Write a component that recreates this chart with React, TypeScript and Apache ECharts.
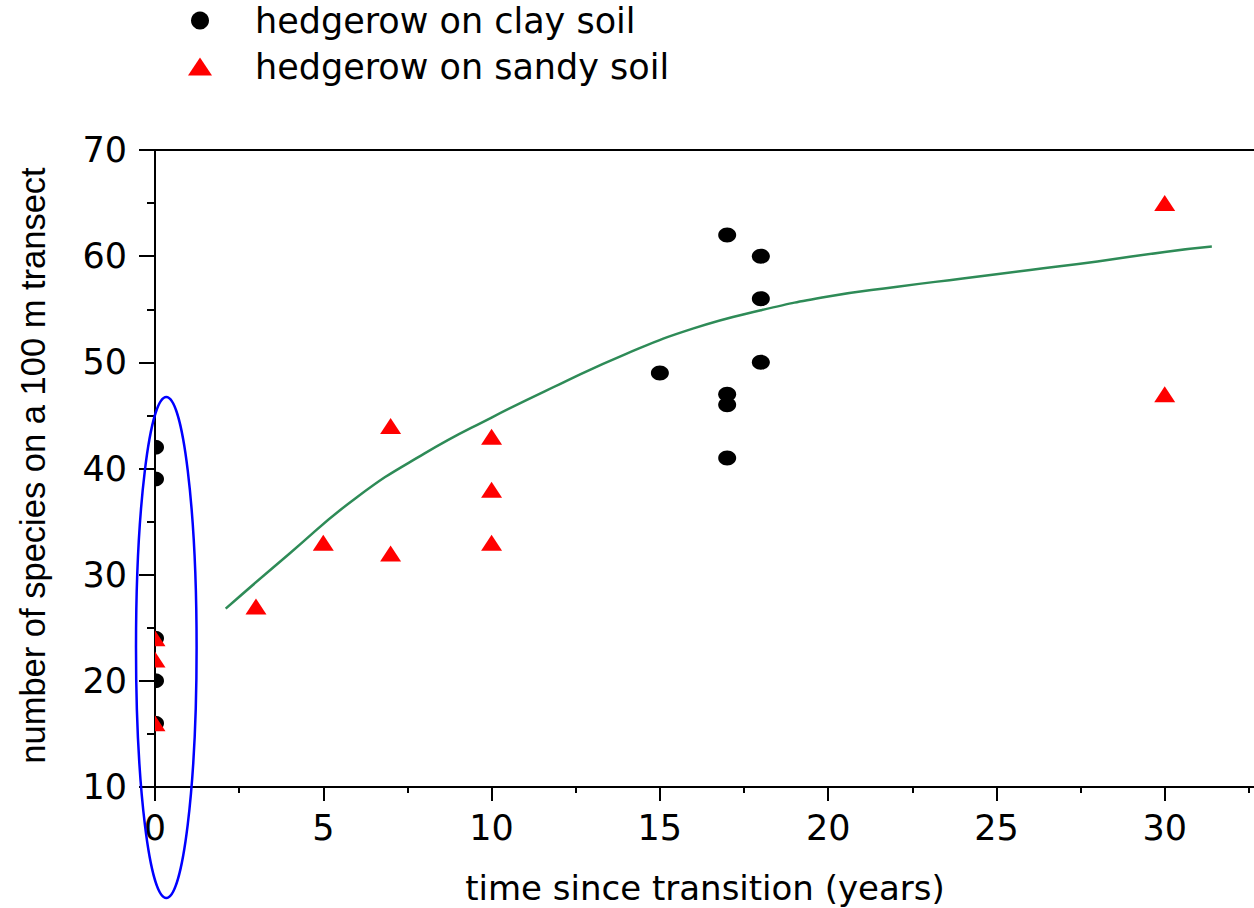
import React, { useEffect, useRef } from "react";
import * as echarts from "echarts";

// Data
const clayX = [0, 0, 0, 0, 0, 15, 17, 17, 17, 17, 18, 18, 18];
const clayY = [42, 39, 24, 20, 16, 49, 62, 47, 46, 41, 60, 56, 50];
const sandyX = [0, 0, 0, 3, 5, 7, 7, 10, 10, 10, 30, 30];
const sandyY = [24, 22, 16, 27, 33, 44, 32, 43, 38, 33, 65, 47];
const fitX = [2.1, 4, 6, 8, 10, 12, 14, 16, 18, 20, 22, 24, 26, 28, 30, 31.4];
const fitY = [26.8, 32.0, 37.3, 41.4, 44.8, 47.9, 50.8, 53.2, 54.9, 56.2, 57.1, 57.9, 58.7, 59.5, 60.4, 60.9];
const seriesNames = ["hedgerow on clay soil", "hedgerow on sandy soil"];
const xTitle = "time since transition (years)";
const yTitle = "number of species on a 100 m transect";

const zip = (xs: number[], ys: number[]) => xs.map((x, i) => [x, ys[i]]);

export default function App() {
  const ref = useRef<HTMLDivElement>(null);
  useEffect(() => {
    if (!ref.current) return;
    const chart = echarts.init(ref.current, undefined, { renderer: "svg" });
    const labelFont = "DejaVu Sans";
    chart.setOption({
      animation: false,
      backgroundColor: "#ffffff",
      grid: {
        left: 155,
        top: 150,
        width: 1178,
        bottom: 121,
        outerBoundsMode: "none",
        containLabel: false,
        show: true,
        borderColor: "#000",
        borderWidth: 2,
        backgroundColor: "transparent",
      },
      legend: {
        orient: "vertical",
        left: 188,
        top: 3,
        padding: 0,
        itemWidth: 24,
        itemHeight: 18,
        itemGap: 11,
        data: [
          { name: seriesNames[0], icon: "circle", itemStyle: { color: "#000000" } },
          { name: seriesNames[1], icon: "triangle", itemStyle: { color: "#ff0000" } },
        ],
        textStyle: {
          fontFamily: labelFont,
          fontSize: 35,
          color: "#000",
          lineHeight: 30,
          padding: [0, 0, 0, 38],
        },
      },
      xAxis: {
        type: "value",
        min: 0,
        max: 35,
        interval: 5,
        name: xTitle,
        nameLocation: "middle",
        nameGap: 84,
        nameTextStyle: {
          fontFamily: labelFont,
          fontSize: 34,
          color: "#000",
          padding: [0, 78, 0, 0],
        },
        axisLine: { onZero: false, lineStyle: { color: "#000", width: 2 } },
        axisTick: { length: 14, lineStyle: { color: "#000", width: 2 } },
        minorTick: { show: true, splitNumber: 2, length: 6, lineStyle: { color: "#000", width: 2 } },
        splitLine: { show: false },
        axisLabel: {
          fontFamily: labelFont,
          fontSize: 35,
          color: "#000",
          margin: 23,
          showMaxLabel: false,
        },
      },
      yAxis: {
        type: "value",
        min: 10,
        max: 70,
        interval: 10,
        name: yTitle,
        nameLocation: "middle",
        nameGap: 105,
        nameTextStyle: {
          fontFamily: "Liberation Sans",
          fontSize: 34.5,
          color: "#000",
          padding: [0, 0, 0, 6],
        },
        axisLine: { onZero: false, lineStyle: { color: "#000", width: 2 } },
        axisTick: { length: 16, lineStyle: { color: "#000", width: 2 } },
        minorTick: { show: true, splitNumber: 2, length: 8, lineStyle: { color: "#000", width: 2 } },
        splitLine: { show: false },
        axisLabel: { fontFamily: labelFont, fontSize: 35, color: "#000", margin: 28 },
      },
      series: [
        {
          type: "line",
          data: zip(fitX, fitY),
          smooth: 0.5,
          showSymbol: false,
          symbol: "none",
          lineStyle: { color: "#2E8B57", width: 2.5 },
          z: 1,
        },
        {
          name: seriesNames[0],
          type: "custom",
          clip: true,
          data: zip(clayX, clayY),
          encode: { x: 0, y: 1 },
          itemStyle: { color: "#000000" },
          z: 2,
          renderItem: (params: any, api: any) => {
            const p = api.coord([api.value(0), api.value(1)]);
            return {
              type: "ellipse",
              shape: { cx: p[0], cy: p[1], rx: 9, ry: 7.5 },
              style: { fill: "#000000" },
            };
          },
        },
        {
          name: seriesNames[1],
          type: "custom",
          clip: true,
          data: zip(sandyX, sandyY),
          encode: { x: 0, y: 1 },
          itemStyle: { color: "#ff0000" },
          z: 3,
          renderItem: (params: any, api: any) => {
            const p = api.coord([api.value(0), api.value(1)]);
            return {
              type: "polygon",
              shape: {
                points: [
                  [p[0], p[1] - 8],
                  [p[0] + 10.5, p[1] + 8],
                  [p[0] - 10.5, p[1] + 8],
                ],
              },
              style: { fill: "#ff0000" },
            };
          },
        },
      ],
      graphic: [
        {
          type: "ellipse",
          shape: { cx: 166.3, cy: 647.5, rx: 30.3, ry: 250.5 },
          style: { fill: "none", stroke: "#0000ff", lineWidth: 2.5 },
          z: 100,
        },
      ],
    });
    return () => chart.dispose();
  }, []);
  return (
    <div
      ref={ref}
      style={{ position: "absolute", left: 0, top: 0, width: 1254, height: 908 }}
    />
  );
}
